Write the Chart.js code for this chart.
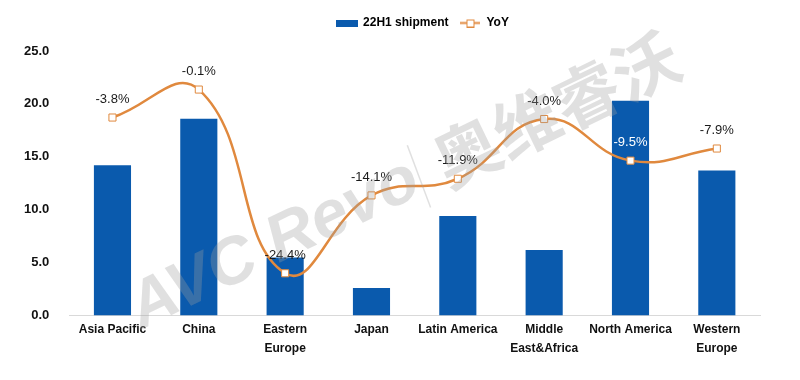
<!DOCTYPE html>
<html>
<head>
<meta charset="utf-8">
<script src="https://cdn.jsdelivr.net/npm/chart.js@4.4.1/dist/chart.umd.min.js"></script>
<style>
  html, body { margin: 0; padding: 0; background: #ffffff; }
  #wrap { width: 800px; height: 380px; position: relative; }
</style>
</head>
<body>
<div id="wrap"><canvas id="c" width="800" height="380"></canvas></div>
<script>
const categories = [["Asia Pacific"], ["China"], ["Eastern", "Europe"], ["Japan"], ["Latin America"], ["Middle", "East&Africa"], ["North America"], ["Western", "Europe"]];
const shipment = [14.2, 18.6, 5.5, 2.6, 9.4, 6.2, 20.3, 13.7];
const yoy = [-3.8, -0.1, -24.4, -14.1, -11.9, -4.0, -9.5, -7.9];
const yTicks = [0, 5, 10, 15, 20, 25];

const BLUE = '#0a5aad';
const ORANGE = '#e0893e';
const FONT = '"Liberation Sans", Arial, sans-serif';

function makeBarSwatch() {
  const c = document.createElement('canvas');
  c.width = 22; c.height = 7;
  const x = c.getContext('2d');
  x.fillStyle = BLUE; x.fillRect(0, 0, 22, 7);
  return c;
}
function makeLineSwatch() {
  const c = document.createElement('canvas');
  c.width = 20; c.height = 9;
  const x = c.getContext('2d');
  x.strokeStyle = ORANGE; x.lineWidth = 2;
  x.beginPath(); x.moveTo(0, 4.5); x.lineTo(20, 4.5); x.stroke();
  x.fillStyle = '#fff'; x.lineWidth = 1;
  x.fillRect(6.5, 1.5, 7, 7); x.strokeRect(6.5, 1.5, 7, 7);
  return c;
}

const legendSpacer = {
  id: 'legendSpacer',
  afterInit(chart) {
    const lg = chart.legend;
    if (lg && !lg._patched) {
      const orig = lg.fit;
      lg.fit = function () { orig.call(this); this.height += 13; };
      lg._patched = true;
    }
  },
  beforeDraw(chart) {
    const lg = chart.legend;
    if (lg && !lg._shifted) {
      lg.left += 37; lg.right += 37;
      lg.top += 1; lg.bottom += 1;
      lg._shifted = true;
    }
  }
};

const labelPlugin = {
  id: 'yoyLabels',
  afterDatasetsDraw(chart) {
    const meta = chart.getDatasetMeta(1);
    const ctx = chart.ctx;
    ctx.save();
    ctx.font = '13px ' + FONT;
    ctx.textAlign = 'center';
    ctx.textBaseline = 'middle';
    meta.data.forEach((pt, i) => {
      ctx.fillStyle = (i === 6) ? '#ffffff' : '#1a1a1a';
      ctx.fillText(yoy[i].toFixed(1) + '%', pt.x, pt.y - 18);
    });
    ctx.restore();
  }
};

const watermarkPlugin = {
  id: 'watermark',
  afterDatasetsDraw(chart) {
    const ctx = chart.ctx;
    ctx.save();
    ctx.translate(405, 182);
    ctx.rotate(-0.45);
    ctx.fillStyle = 'rgba(160,160,160,0.32)';
    ctx.strokeStyle = 'rgba(160,160,160,0.32)';
    ctx.font = 'italic bold 66px ' + FONT;
    ctx.textAlign = 'center';
    ctx.textBaseline = 'middle';
    ctx.fillText('AVC Revo', -145, 0);
    ctx.lineWidth = 1.5;
    ctx.beginPath(); ctx.moveTo(18, -32); ctx.lineTo(12, 34); ctx.stroke();
    ctx.font = 'bold 66px "Noto Sans CJK SC", sans-serif';
    ctx.fillText('奥维睿沃', 168, 0);
    ctx.restore();
  }
};

new Chart(document.getElementById('c'), {
  data: {
    labels: categories,
    datasets: [
      {
        type: 'bar',
        label: '22H1 shipment',
        data: shipment,
        backgroundColor: BLUE,
        yAxisID: 'y',
        categoryPercentage: 0.86,
        barPercentage: 0.5,
        order: 2
      },
      {
        type: 'line',
        label: 'YoY',
        data: yoy,
        borderColor: ORANGE,
        borderWidth: 2.5,
        tension: 0.45,
        pointStyle: 'rect',
        pointRadius: 5,
        pointBackgroundColor: '#ffffff',
        pointBorderColor: ORANGE,
        pointBorderWidth: 1,
        yAxisID: 'y2',
        order: 1
      }
    ]
  },
  options: {
    responsive: false,
    animation: false,
    layout: { padding: { top: 4, right: 40, left: 12, bottom: 18 } },
    plugins: {
      tooltip: { enabled: false },
      legend: {
        position: 'top',
        labels: {
          usePointStyle: true,
          pointStyleWidth: 20,
          boxHeight: 9,
          padding: 12,
          color: '#111',
          font: { family: FONT, size: 12, weight: 'bold' },
          generateLabels(chart) {
            return [
              { text: '22H1 shipment', pointStyle: makeBarSwatch(), datasetIndex: 0, fillStyle: BLUE, strokeStyle: BLUE, lineWidth: 0, hidden: false },
              { text: 'YoY', pointStyle: makeLineSwatch(), datasetIndex: 1, fillStyle: '#fff', strokeStyle: ORANGE, lineWidth: 0, hidden: false }
            ];
          }
        }
      }
    },
    scales: {
      x: {
        grid: { display: false, drawTicks: false },
        border: { display: true, color: '#d9d9d9', width: 1 },
        ticks: { color: '#111', font: { family: FONT, size: 12, weight: 'bold', lineHeight: 1.6 }, maxRotation: 0, autoSkip: false, padding: 4 }
      },
      y: {
        min: 0, max: 25,
        afterBuildTicks(axis) { axis.ticks = yTicks.map(v => ({ value: v })); },
        grid: { display: false },
        border: { display: false },
        ticks: { color: '#111', font: { family: FONT, size: 13, weight: 'bold' }, padding: 12, callback: v => Number(v).toFixed(1) }
      },
      y2: {
        display: false,
        min: -30, max: 5
      }
    }
  },
  plugins: [legendSpacer, labelPlugin, watermarkPlugin]
});
</script>
</body>
</html>
